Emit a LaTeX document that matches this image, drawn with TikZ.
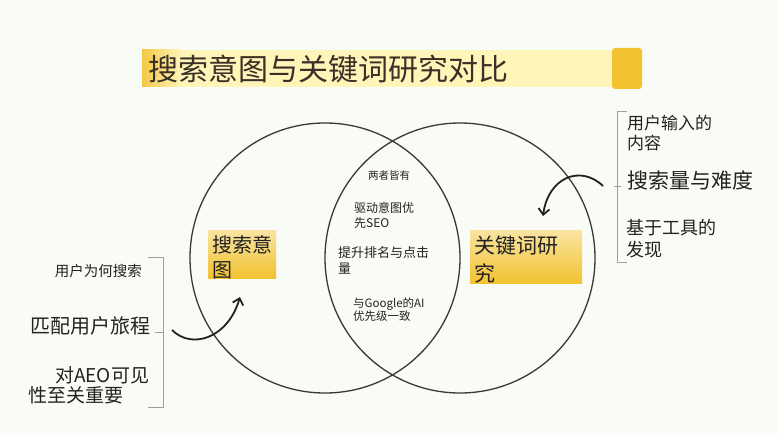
\documentclass[tikz,border=0pt]{standalone}
\usepackage{fontspec}
\setmainfont{Noto Sans CJK SC}
\usetikzlibrary{arrows.meta}
\definecolor{bg}{HTML}{F9FBF6}
\definecolor{ink}{HTML}{222222}
\definecolor{gold}{HTML}{F2C230}
\definecolor{palegold}{HTML}{FFF5B8}
\tikzset{
  ring/.style={draw=ink!90,line width=1.3pt,circle,minimum size=270pt,inner sep=0pt},
  brace/.style={draw=gray!75,line width=0.9pt},
  curl/.style={draw=ink,line width=1.8pt,-{Straight Barb[length=6pt,width=11pt]}},
  txt/.style={inner sep=0pt,text=ink,align=left,anchor=west},
}
\begin{document}
\begin{tikzpicture}[x=1pt,y=-1pt]
\useasboundingbox (0,0) rectangle (778,433);
\fill[bg] (0,0) rectangle (778,433);

\fill[palegold] (180,50) rectangle (614,87);
\shade[left color=gold!90,right color=palegold] (142,50) rectangle (181,87);
\fill[gold,rounded corners=3pt] (612,48) rectangle (642,89);
\node (title) [txt,text=ink!85!brown,font=\fontsize{30}{36}\selectfont] at (148,69) {搜索意图与关键词研究对比};

\node (intentRing) [ring] at (325,258) {};
\node (keywordRing) [ring] at (460,258) {};

\shade[top color=gold!45,bottom color=gold] (208,230) rectangle (276,278);
\node (intent) [txt,font=\fontsize{20}{25}\selectfont] at (212,257.5) {搜索意\\图};
\shade[top color=gold!45,bottom color=gold] (470,230) rectangle (582,283);
\node (keyword) [txt,font=\fontsize{21}{28}\selectfont] at (474,259.5) {关键词研\\究};

\node (both) [txt,anchor=center,font=\fontsize{10.5}{13}\selectfont] at (389,176) {两者皆有};
\node (drive) [txt,font=\fontsize{12}{15}\selectfont] at (354,215.5) {驱动意图优\\先SEO};
\node (rank) [txt,font=\fontsize{13}{16}\selectfont] at (338,260) {提升排名与点击\\量};
\node (align) [txt,font=\fontsize{11.5}{13.5}\selectfont] at (353,309.5) {与Google的AI\\优先级一致};

\node (why) [txt,anchor=east,font=\fontsize{14.5}{17}\selectfont] at (142,271) {用户为何搜索};
\node (journey) [txt,font=\fontsize{20}{24}\selectfont] at (30,326) {匹配用户旅程};
\node (aeo) [txt,font=\fontsize{19}{20}\selectfont] at (28,385) {\hspace*{27pt}对AEO可见\\性至关重要};
\draw[brace] (148,257) -- (163,257) -- (163,407) -- (148,407);
\draw[brace] (155,332) -- (163,332);

\node (input) [txt,font=\fontsize{17}{20}\selectfont] at (627,133) {用户输入的\\内容};
\node (volume) [txt,font=\fontsize{21}{25}\selectfont] at (627,180) {搜索量与难度};
\node (tools) [txt,font=\fontsize{18}{22}\selectfont] at (626,239) {基于工具的\\发现};
\draw[brace] (627,111) -- (617,111) -- (617,262) -- (627,262);
\draw[brace] (614,186) -- (621,186);

\coordinate (lfrom) at (172,330);
\coordinate (lto) at (240,297);
\coordinate (rfrom) at (603,186);
\coordinate (rto) at (543,216);
\draw[curl] (lfrom) .. controls (192,350) and (228,338) .. (lto);
\draw[curl] (rfrom) .. controls (580,164) and (548,178) .. (rto);
\end{tikzpicture}
\end{document}
